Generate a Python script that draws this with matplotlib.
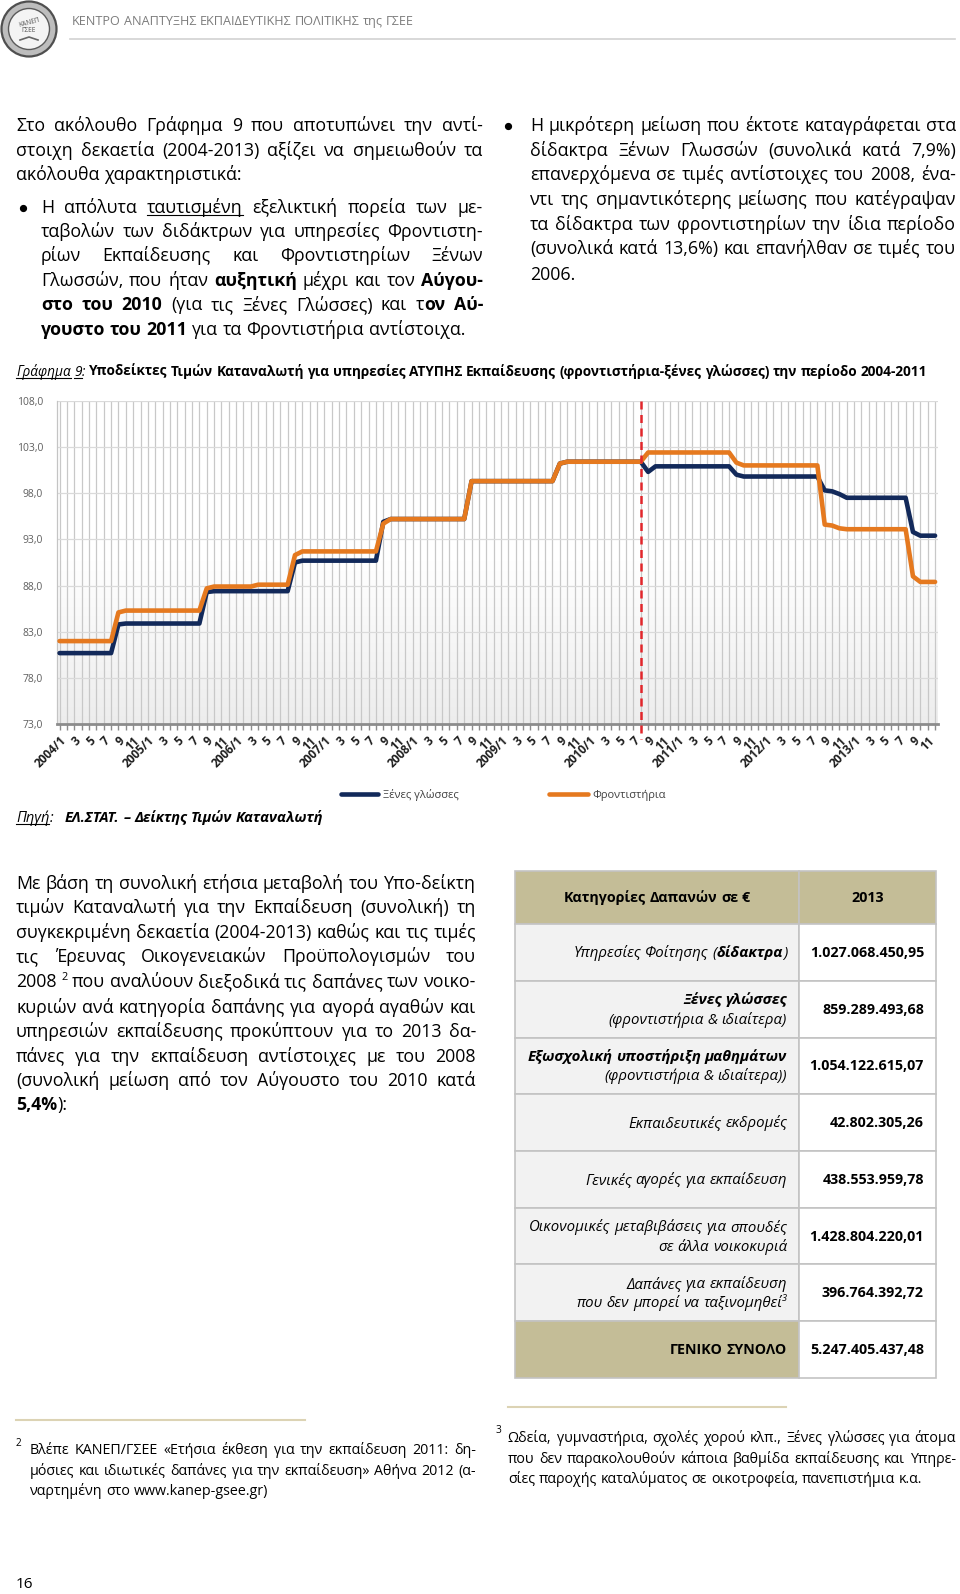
import re
import matplotlib
matplotlib.use("Agg")
import matplotlib.pyplot as plt
import matplotlib.transforms as mtransforms
from matplotlib.patches import Rectangle, Circle
import numpy as np

# ---------------- DATA ----------------
years = [2004, 2005, 2006, 2007, 2008, 2009, 2010, 2011, 2012, 2013]
month_labels = ["1", "3", "5", "7", "9", "11"]

# Ξένες γλώσσες (monthly, 2004/1 .. 2013/12)
xenes = [
    80.7, 80.7, 80.7, 80.7, 80.7, 80.7, 80.7, 80.7, 83.8, 83.9, 83.9, 83.9,
    83.9, 83.9, 83.9, 83.9, 83.9, 83.9, 83.9, 83.9, 87.3, 87.4, 87.4, 87.4,
    87.4, 87.4, 87.4, 87.4, 87.4, 87.4, 87.4, 87.4, 90.5, 90.7, 90.7, 90.7,
    90.7, 90.7, 90.7, 90.7, 90.7, 90.7, 90.7, 90.7, 94.9, 95.2, 95.2, 95.2,
    95.2, 95.2, 95.2, 95.2, 95.2, 95.2, 95.2, 95.2, 99.3, 99.3, 99.3, 99.3,
    99.3, 99.3, 99.3, 99.3, 99.3, 99.3, 99.3, 99.3, 101.2, 101.4, 101.4, 101.4,
    101.4, 101.4, 101.4, 101.4, 101.4, 101.4, 101.4, 101.4, 100.3, 100.9, 100.9, 100.9,
    100.9, 100.9, 100.9, 100.9, 100.9, 100.9, 100.9, 100.9, 100.0, 99.8, 99.8, 99.8,
    99.8, 99.8, 99.8, 99.8, 99.8, 99.8, 99.8, 99.8, 98.3, 98.2, 97.9, 97.5,
    97.5, 97.5, 97.5, 97.5, 97.5, 97.5, 97.5, 97.5, 93.8, 93.4, 93.4, 93.4,
]
# Φροντιστήρια
frontistiria = [
    82.0, 82.0, 82.0, 82.0, 82.0, 82.0, 82.0, 82.0, 85.1, 85.3, 85.3, 85.3,
    85.3, 85.3, 85.3, 85.3, 85.3, 85.3, 85.3, 85.3, 87.7, 87.9, 87.9, 87.9,
    87.9, 87.9, 87.9, 88.1, 88.1, 88.1, 88.1, 88.1, 91.3, 91.7, 91.7, 91.7,
    91.7, 91.7, 91.7, 91.7, 91.7, 91.7, 91.7, 91.7, 94.7, 95.2, 95.2, 95.2,
    95.2, 95.2, 95.2, 95.2, 95.2, 95.2, 95.2, 95.2, 99.3, 99.3, 99.3, 99.3,
    99.3, 99.3, 99.3, 99.3, 99.3, 99.3, 99.3, 99.3, 101.2, 101.4, 101.4, 101.4,
    101.4, 101.4, 101.4, 101.4, 101.4, 101.4, 101.4, 101.4, 102.4, 102.4, 102.4, 102.4,
    102.4, 102.4, 102.4, 102.4, 102.4, 102.4, 102.4, 102.4, 101.3, 101.0, 101.0, 101.0,
    101.0, 101.0, 101.0, 101.0, 101.0, 101.0, 101.0, 101.0, 94.6, 94.5, 94.2, 94.1,
    94.1, 94.1, 94.1, 94.1, 94.1, 94.1, 94.1, 94.1, 89.0, 88.4, 88.4, 88.4,
]
series_names = ["Ξένες γλώσσες", "Φροντιστήρια"]
y_ticks = [73.0, 78.0, 83.0, 88.0, 93.0, 98.0, 103.0, 108.0]
marker_month = "2010/8"   # red dashed reference line

table_header = ["Κατηγορίες Δαπανών σε €", "2013"]
table_categories = [
    ["Υπηρεσίες Φοίτησης (<b>δίδακτρα</b>)"],
    ["<b>Ξένες γλώσσες</b>", "(φροντιστήρια & ιδιαίτερα)"],
    ["<b>Εξωσχολική υποστήριξη μαθημάτων</b>", "(φροντιστήρια & ιδιαίτερα))"],
    ["Εκπαιδευτικές εκδρομές"],
    ["Γενικές αγορές για εκπαίδευση"],
    ["Οικονομικές μεταβιβάσεις για σπουδές", "σε άλλα νοικοκυριά"],
    ["Δαπάνες για εκπαίδευση", "που δεν μπορεί να ταξινομηθεί<sup>3</sup>"],
]
table_values = ["1.027.068.450,95", "859.289.493,68", "1.054.122.615,07", "42.802.305,26",
                "438.553.959,78", "1.428.804.220,01", "396.764.392,72"]
table_total_label = "ΓΕΝΙΚΟ ΣΥΝΟΛΟ"
table_total_value = "5.247.405.437,48"

# ---------------- PAGE SETUP ----------------
W, H = 960, 1594
FAMS = ["Open Sans", "DejaVu Sans"]
plt.rcParams["font.family"] = FAMS
fig = plt.figure(figsize=(W / 100, H / 100), dpi=100)
page = fig.add_axes([0, 0, 1, 1])
page.set_xlim(0, W)
page.set_ylim(H, 0)
page.axis("off")
renderer = fig.canvas.get_renderer()
PX = 100 / 72.0
INK = "#000000"

TAG = re.compile(r"(</?(?:b|i|u|sup)>)")


def parse(s):
    st = {"b": 0, "i": 0, "u": 0, "sup": 0}
    runs = []
    for tok in TAG.split(s):
        if not tok:
            continue
        m = re.fullmatch(r"<(/?)(b|i|u|sup)>", tok)
        if m:
            st[m.group(2)] += -1 if m.group(1) else 1
        else:
            runs.append((tok, st["b"] > 0, st["i"] > 0, st["u"] > 0, st["sup"] > 0))
    return runs


def words_of(s):
    words = [[]]
    for txt, b, i, u, sp in parse(s):
        parts = txt.split(" ")
        for k, p in enumerate(parts):
            if k > 0:
                words.append([])
            if p:
                words[-1].append((p, b, i, u, sp))
    return [w for w in words if w]


def tkw(b, i, sp, size):
    return dict(fontsize=size * (0.62 if sp else 1.0),
                fontweight="bold" if b else "normal",
                fontstyle="italic" if i else "normal",
                family=FAMS)


_cache = {}


def mw(txt, b, i, sp, size):
    key = (txt, b, i, sp, round(size, 3))
    if key not in _cache:
        t = page.text(0, 0, txt, **tkw(b, i, sp, size))
        _cache[key] = t.get_window_extent(renderer).width
        t.remove()
    return _cache[key]


def space_w(size):
    return mw("a a", False, False, False, size) - mw("aa", False, False, False, size)


def natural(s, size):
    ws = words_of(s)
    tot = sum(mw(r[0], r[1], r[2], r[4], size) for w in ws for r in w)
    return tot + space_w(size) * (len(ws) - 1)


def fit(s, target, base=12.0):
    return base * target / natural(s, base)


def line(s, x0, x1, y, size, align="left", color=INK):
    ws = words_of(s)
    widths = [[mw(r[0], r[1], r[2], r[4], size) for r in w] for w in ws]
    tot = sum(sum(w) for w in widths)
    sp = space_w(size)
    n = len(ws)
    if align == "justify" and n > 1:
        gap = (x1 - x0 - tot) / (n - 1)
        x = x0
    else:
        gap = sp
        full = tot + sp * (n - 1)
        x = {"left": x0, "right": x1 - full, "center": (x0 + x1 - full) / 2}[align]
    for w, wd in zip(ws, widths):
        for r, rw in zip(w, wd):
            txt, b, i, u, supf = r
            yy = y - size * PX * 0.42 if supf else y
            page.text(x, yy, txt, ha="left", va="baseline", color=color, **tkw(b, i, supf, size))
            if u:
                page.plot([x, x + rw], [y + size * PX * 0.16] * 2, color=color, lw=0.8)
            x += rw
        x += gap


def bullet(x, y):
    page.plot([x], [y], marker="o", markersize=4.2, color=INK, linestyle="none")


# ---------------- HEADER ----------------
page.add_patch(Circle((29, 29), 27.5, facecolor="#bdbdbd", edgecolor="#4f4f4f", lw=1.6))
page.add_patch(Circle((29, 29), 20.5, facecolor="#f4f4f4", edgecolor="#5a5a5a", lw=1.0))
page.text(29, 23, "ΚΑΝΕΠ", ha="center", va="center", fontsize=4.8, color="#555555", rotation=15)
page.text(29, 30, "ΓΣΕΕ", ha="center", va="center", fontsize=4.8, color="#555555")
page.plot([20, 29, 38], [40, 37, 40], color="#666666", lw=1.2)
hdr = "ΚΕΝΤΡΟ ΑΝΑΠΤΥΞΗΣ ΕΚΠΑΙΔΕΥΤΙΚΗΣ ΠΟΛΙΤΙΚΗΣ της ΓΣΕΕ"
line(hdr, 72, 412, 25, fit(hdr, 340), color="#7c7c7c")
page.plot([70, 955], [38.5, 38.5], color="#d2d2d2", lw=1.2)

# ---------------- TOP TEXT ----------------
BODY = fit("<b>γουστο του 2011</b> για τα Φροντιστήρια αντίστοιχα.", 423)
left_lines = [
    ("Στο ακόλουθο Γράφημα 9 που αποτυπώνει την αντί-", 16, 131, "justify"),
    ("στοιχη δεκαετία (2004-2013) αξίζει να σημειωθούν τα", 16, 155.5, "justify"),
    ("ακόλουθα χαρακτηριστικά:", 16, 180, "left"),
    ("Η απόλυτα <u>ταυτισμένη</u> εξελικτική πορεία των με-", 41, 212.5, "justify"),
    ("ταβολών των διδάκτρων για υπηρεσίες Φροντιστη-", 41, 237, "justify"),
    ("ρίων Εκπαίδευσης και Φροντιστηρίων Ξένων", 41, 261, "justify"),
    ("Γλωσσών, που ήταν <b>αυξητική</b> μέχρι και τον <b>Αύγου-</b>", 41, 286, "justify"),
    ("<b>στο του 2010</b> (για τις Ξένες Γλώσσες) και τ<b>ον Αύ-</b>", 41, 310, "justify"),
    ("<b>γουστο του 2011</b> για τα Φροντιστήρια αντίστοιχα.", 41, 334.5, "left"),
]
for s, x0, y, al in left_lines:
    line(s, x0, 483, y, BODY, align=al)
bullet(23, 207.5)

right_lines = [
    "Η μικρότερη μείωση που έκτοτε καταγράφεται στα",
    "δίδακτρα Ξένων Γλωσσών (συνολικά κατά 7,9%)",
    "επανερχόμενα σε τιμές αντίστοιχες του 2008, ένα-",
    "ντι της σημαντικότερης μείωσης που κατέγραψαν",
    "τα δίδακτρα των φροντιστηρίων την ίδια περίοδο",
    "(συνολικά κατά 13,6%) και επανήλθαν σε τιμές του",
    "2006.",
]
right_y = [131, 155.5, 180, 205, 229.7, 254, 279.6]
for k, (s, y) in enumerate(zip(right_lines, right_y)):
    line(s, 530, 956, y, BODY, align="justify" if k < len(right_lines) - 1 else "left")
bullet(508, 126)

# ---------------- CHART TITLE ----------------
ttl = ("<i><u>Γράφημα 9</u>:</i> <b>Υποδείκτες Τιμών Καταναλωτή για υπηρεσίες ΑΤΥΠΗΣ "
       "Εκπαίδευσης (φροντιστήρια-ξένες γλώσσες) την περίοδο 2004-2011</b>")
line(ttl, 16, 925, 375.5, fit(ttl, 909))

# ---------------- CHART ----------------
ax = fig.add_axes([57 / W, 1 - 724.3 / H, (938 - 57) / W, (724.3 - 400.7) / H])
xi = np.arange(len(xenes))
ax.set_xlim(-0.35, len(xenes) - 0.6)
ax.set_ylim(y_ticks[0], y_ticks[-1])
tt = np.linspace(0, 1, 256)
g = 1 - 0.07 * np.clip((tt - 0.5) / 0.5, 0, 1)
img = np.dstack([g, g, g]).reshape(256, 1, 3)
ax.imshow(img, extent=[-0.35, len(xenes) - 0.6, y_ticks[0], y_ticks[-1]], aspect="auto",
          zorder=0, origin="upper")

xlabels = []
for yv in years:
    for m in month_labels:
        xlabels.append(f"{yv}/{m}" if m == "1" else m)
ax.set_xticks(np.arange(0, len(xenes), 2))
ax.set_xticks(np.arange(len(xenes)), minor=True)
ax.set_xticklabels(xlabels, rotation=45, ha="right", va="top", rotation_mode="anchor",
                   fontsize=8.5, fontweight="bold", color="#1e1e1e")
ax.set_yticks(y_ticks)
ax.set_yticklabels([f"{v:.1f}".replace(".", ",") for v in y_ticks], fontsize=7.5, color="#5f5f5f")
ax.grid(axis="x", which="both", color="#c8c8c8", lw=0.9, zorder=1)
ax.grid(axis="y", which="major", color="#dadada", lw=0.9, zorder=1)
ax.set_axisbelow(True)
for sp in ["top", "right"]:
    ax.spines[sp].set_visible(False)
ax.spines["left"].set_color("#c4c4c4")
ax.spines["left"].set_linewidth(0.9)
ax.spines["bottom"].set_color("#8c8c8c")
ax.spines["bottom"].set_linewidth(2.0)
ax.tick_params(axis="x", which="both", length=4, width=1, color="#8c8c8c", pad=3)
ax.tick_params(axis="y", length=0, pad=10)

ax.plot(xi, xenes, color="#12295a", lw=3.3, solid_joinstyle="round", solid_capstyle="round", zorder=3)
ax.plot(xi, frontistiria, color="#e5791f", lw=3.3, solid_joinstyle="round", solid_capstyle="round", zorder=4)
mi = (years.index(int(marker_month.split("/")[0])) * 12 + int(marker_month.split("/")[1]) - 1)
trans = mtransforms.blended_transform_factory(ax.transData, ax.transAxes)
ax.plot([mi, mi], [1.0, -0.045], transform=trans, color="#e2262b", lw=1.8,
        ls=(0, (3.2, 2.2)), clip_on=False, zorder=5)

# legend (manual, below chart)
page.plot([341, 378], [794, 794], color="#12295a", lw=3.3, solid_capstyle="round")
page.text(383, 797.5, series_names[0], fontsize=8, color="#404040", va="baseline")
page.plot([549, 588], [794, 794], color="#e5791f", lw=3.3, solid_capstyle="round")
page.text(592, 797.5, series_names[1], fontsize=8, color="#404040", va="baseline")

# source
src = "<b><i>ΕΛ.ΣΤΑΤ. – Δείκτης Τιμών Καταναλωτή</i></b>"
SS = fit(src, 258)
line("<i><u>Πηγή</u>:</i>", 16, 60, 822, SS)
line(src, 65, 330, 822, SS)

# ---------------- LOWER LEFT PARAGRAPH ----------------
para = [
    "Με βάση τη συνολική ετήσια μεταβολή του Υπο-δείκτη",
    "τιμών Καταναλωτή για την Εκπαίδευση (συνολική) τη",
    "συγκεκριμένη δεκαετία (2004-2013) καθώς και τις τιμές",
    "τις Έρευνας Οικογενειακών Προϋπολογισμών του",
    "2008 <sup>2</sup> που αναλύουν διεξοδικά τις δαπάνες των νοικο-",
    "κυριών ανά κατηγορία δαπάνης για αγορά αγαθών και",
    "υπηρεσιών εκπαίδευσης προκύπτουν για το 2013 δα-",
    "πάνες για την εκπαίδευση αντίστοιχες με του 2008",
    "(συνολική μείωση από τον Αύγουστο του 2010 κατά",
    "<b>5,4%</b>):",
]
para_y = [888.7, 913.1, 937.5, 961.9, 987.3, 1012.7, 1037.2, 1061.6, 1086, 1110.4]
for k, (s, y) in enumerate(zip(para, para_y)):
    line(s, 16, 476, y, BODY, align="justify" if k < len(para) - 1 else "left")

# ---------------- TABLE ----------------
TX0, TXM, TX1 = 515, 799, 936
top, hdr_bot = 871, 924.3
row_h = (1377.7 - hdr_bot) / (len(table_categories) + 1)
TI = fit("<i>Οικονομικές μεταβιβάσεις για σπουδές</i>", 258)
TN = fit("<b>1.027.068.450,95</b>", 114)
TAN = "#c4bd97"
EDGE = "#c3c3c3"
page.add_patch(Rectangle((TX0, top), TXM - TX0, hdr_bot - top, facecolor=TAN, edgecolor=EDGE, lw=1.2))
page.add_patch(Rectangle((TXM, top), TX1 - TXM, hdr_bot - top, facecolor=TAN, edgecolor=EDGE, lw=1.2))
hy = (top + hdr_bot) / 2 + 4.5
line("<b>" + table_header[0] + "</b>", TX0, TXM, hy, TN, align="center")
line("<b>" + table_header[1] + "</b>", TXM, TX1, hy, TN, align="center")
rows = table_categories + [[table_total_label]]
vals = table_values + [table_total_value]
for r, (cat, val) in enumerate(zip(rows, vals)):
    y0 = hdr_bot + r * row_h
    last = r == len(rows) - 1
    page.add_patch(Rectangle((TX0, y0), TXM - TX0, row_h, facecolor=TAN if last else "#f2f2f2",
                             edgecolor=EDGE, lw=1.2))
    page.add_patch(Rectangle((TXM, y0), TX1 - TXM, row_h, facecolor="white", edgecolor=EDGE, lw=1.2))
    cy = y0 + row_h / 2
    if last:
        line("<b>" + cat[0] + "</b>", TX0, 787, cy + 4.5, TN, align="right")
    elif len(cat) == 1:
        line("<i>" + cat[0] + "</i>", TX0, 787, cy + 4.5, TI, align="right")
    else:
        line("<i>" + cat[0] + "</i>", TX0, 787, cy - 5, TI, align="right")
        line("<i>" + cat[1] + "</i>", TX0, 787, cy + 14.5, TI, align="right")
    line("<b>" + val + "</b>", TXM, 924, cy + 4.5, TN, align="right")

# ---------------- FOOTNOTES ----------------
FN = fit("σίες παροχής καταλύματος σε οικοτροφεία, πανεπιστήμια κ.α.", 414)
page.plot([16, 305], [1419.6, 1419.6], color="#dcd3b4", lw=1.5)
page.plot([508, 786], [1407.4, 1407.4], color="#dcd3b4", lw=1.5)
fn2 = [
    "Βλέπε ΚΑΝΕΠ/ΓΣΕΕ «Ετήσια έκθεση για την εκπαίδευση 2011: δη-",
    "μόσιες και ιδιωτικές δαπάνες για την εκπαίδευση» Αθήνα 2012 (α-",
    "ναρτημένη στο www.kanep-gsee.gr)",
]
for k, (s, y) in enumerate(zip(fn2, [1454.5, 1474.9, 1495.3])):
    line(s, 30, 476, y, FN, align="justify" if k < 2 else "left")
page.text(16, 1446, "2", fontsize=FN * 0.7, va="baseline", color=INK)
fn3 = [
    "Ωδεία, γυμναστήρια, σχολές χορού κλπ., Ξένες γλώσσες για άτομα",
    "που δεν παρακολουθούν κάποια βαθμίδα εκπαίδευσης και Υπηρε-",
    "σίες παροχής καταλύματος σε οικοτροφεία, πανεπιστήμια κ.α.",
]
for k, (s, y) in enumerate(zip(fn3, [1442.4, 1462.7, 1483.1])):
    line(s, 508, 956, y, FN, align="justify" if k < 2 else "left")
page.text(496, 1433, "3", fontsize=FN * 0.7, va="baseline", color=INK)

page.text(16, 1588, "16", fontsize=11, va="baseline", color=INK)

fig.savefig("out.png", dpi=100)
